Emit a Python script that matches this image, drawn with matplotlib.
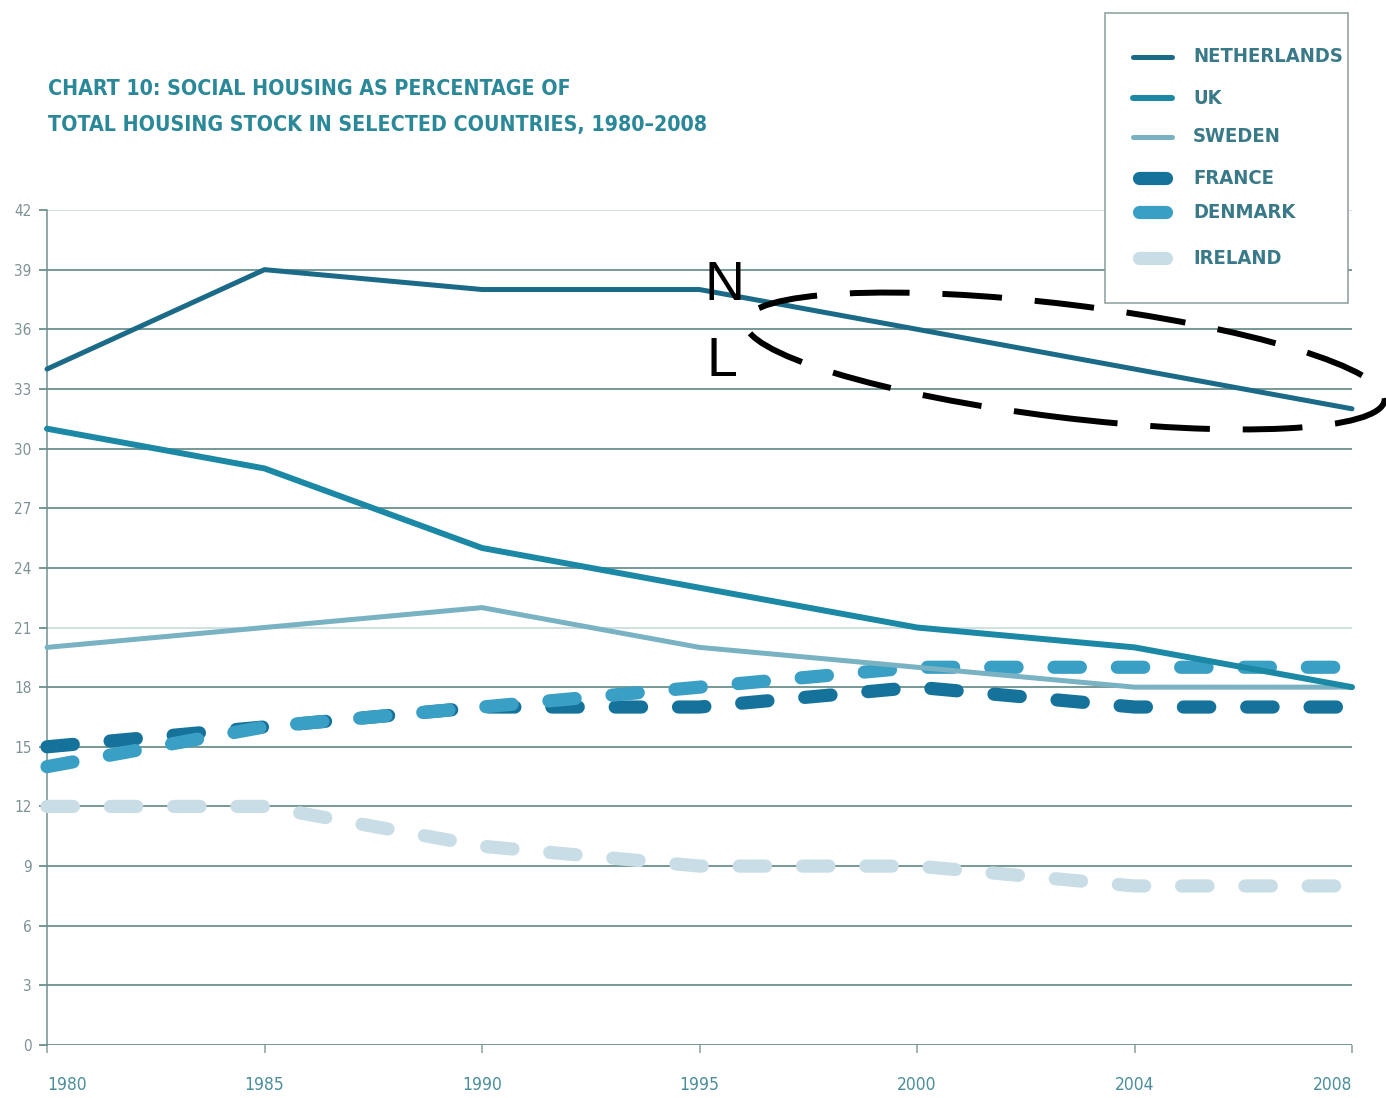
"""Social housing share of total housing stock, selected countries, 1980-2008."""

import matplotlib

matplotlib.use("Agg")
import matplotlib.pyplot as plt
import numpy as np
from matplotlib.lines import Line2D
from matplotlib.patches import Ellipse, Rectangle
from matplotlib.transforms import IdentityTransform

W, H = 1386, 1098
NARROW = dict(family="DejaVu Sans", stretch="condensed")

years = ["1980", "1985", "1990", "1995", "2000", "2004", "2008"]
netherlands = [34, 39, 38, 38, 36, 34, 32]
uk = [31, 29, 25, 23, 21, 20, 18]
sweden = [20, 21, 22, 20, 19, 18, 18]
france = [15, 16, 17, 17, 18, 17, 17]
denmark = [14, 16, 17, 18, 19, 19, 19]
ireland = [12, 12, 10, 9, 9, 8, 8]
y_ticks = list(range(0, 43, 3))

# (name, values, colour, width in pt, dashed)
series = [
    ("IRELAND", ireland, "#c9dde6", 9.5, True),
    ("FRANCE", france, "#15729a", 9.5, True),
    ("DENMARK", denmark, "#3a9fc4", 9.5, True),
    ("SWEDEN", sweden, "#79b2c2", 3.6, False),
    ("UK", uk, "#1b88a6", 4.3, False),
    ("NETHERLANDS", netherlands, "#1b6a88", 3.6, False),
]
legend_order = ["NETHERLANDS", "UK", "SWEDEN", "FRANCE", "DENMARK", "IRELAND"]
legend_rows = [57, 98, 137, 178, 212, 258]


def fx(x):
    return x / W


def fy(y):
    return 1 - y / H


fig = plt.figure(figsize=(W / 100, H / 100), dpi=100)
ax = fig.add_axes([fx(47), fy(1045), 1305 / W, 835 / H])
x = np.arange(len(years))

grid_dark, grid_light = "#4f7d78", "#c4d9d6"
for t in y_ticks:
    ax.axhline(t, color=grid_light if t in (21, 42) else grid_dark, lw=1.1, zorder=1)

for name, vals, col, lw, dashed in series:
    if dashed:
        ax.plot(x, vals, color=col, lw=lw, ls=(0, (2.0, 2.8)), dash_capstyle="round",
                solid_joinstyle="round", clip_on=False, zorder=3)
    else:
        ax.plot(x, vals, color=col, lw=lw, solid_capstyle="round", clip_on=False, zorder=4)

ax.set_xlim(0, 6)
ax.set_ylim(0, 42)
ax.set_yticks(y_ticks)
ax.set_yticklabels([str(t) for t in y_ticks], fontsize=11, color="#7d9296", **NARROW)
ax.set_xticks(x)
ax.set_xticklabels(years, fontsize=12.5, color="#4b8e9c", **NARROW)
for lab, ha in zip(ax.get_xticklabels(), ["left"] + ["center"] * 5 + ["right"]):
    lab.set_ha(ha)
ax.tick_params(axis="y", length=6, width=1.1, color=grid_dark, pad=5)
ax.tick_params(axis="x", length=6, width=1.1, color="#8aa0a0", pad=16)
for side in ("top", "right", "bottom"):
    ax.spines[side].set_visible(False)
ax.spines["left"].set_color("#6f9090")
ax.spines["left"].set_linewidth(1.1)

# title
title_col = "#2a8898"
fig.text(fx(48), fy(95), "CHART 10: SOCIAL HOUSING AS PERCENTAGE OF", fontsize=15.3,
         color=title_col, va="baseline", weight="bold", **NARROW)
fig.text(fx(48), fy(131), "TOTAL HOUSING STOCK IN SELECTED COUNTRIES, 1980\u20132008", fontsize=15.3,
         color=title_col, va="baseline", weight="bold", **NARROW)

# legend box drawn by hand so the rows keep their uneven spacing
fig.add_artist(Rectangle((fx(1105), fy(303)), 243 / W, 290 / H, transform=fig.transFigure,
                         facecolor="white", edgecolor="#8c9c9c", lw=1.1, zorder=10))
style = {s[0]: s for s in series}
for name, row in zip(legend_order, legend_rows):
    _, _, col, lw, dashed = style[name]
    if dashed:
        fig.add_artist(Line2D([fx(1139), fx(1166)], [fy(row), fy(row)], color=col, lw=lw,
                              solid_capstyle="round", transform=fig.transFigure, zorder=11))
    else:
        fig.add_artist(Line2D([fx(1133), fx(1172)], [fy(row), fy(row)], color=col, lw=lw,
                              solid_capstyle="round", transform=fig.transFigure, zorder=11))
    fig.text(fx(1193), fy(row), name, fontsize=14.5, color="#3a7a88",
             va="center", ha="left", zorder=11, weight="bold", **NARROW)

# hand-drawn highlight around the Netherlands decline
fig.add_artist(Ellipse((1065, H - 361), 644, 113, angle=-7, transform=IdentityTransform(),
                       fill=False, edgecolor="black", lw=4.3, ls=(0, (10, 5.5)), zorder=12))
fig.text(fx(725), fy(300), "N", fontsize=40, color="black", family="Liberation Sans",
         ha="center", va="baseline", zorder=12)
fig.text(fx(722), fy(376), "L", fontsize=40, color="black", family="Liberation Sans",
         ha="center", va="baseline", zorder=12)

fig.savefig("out.png", dpi=100)
